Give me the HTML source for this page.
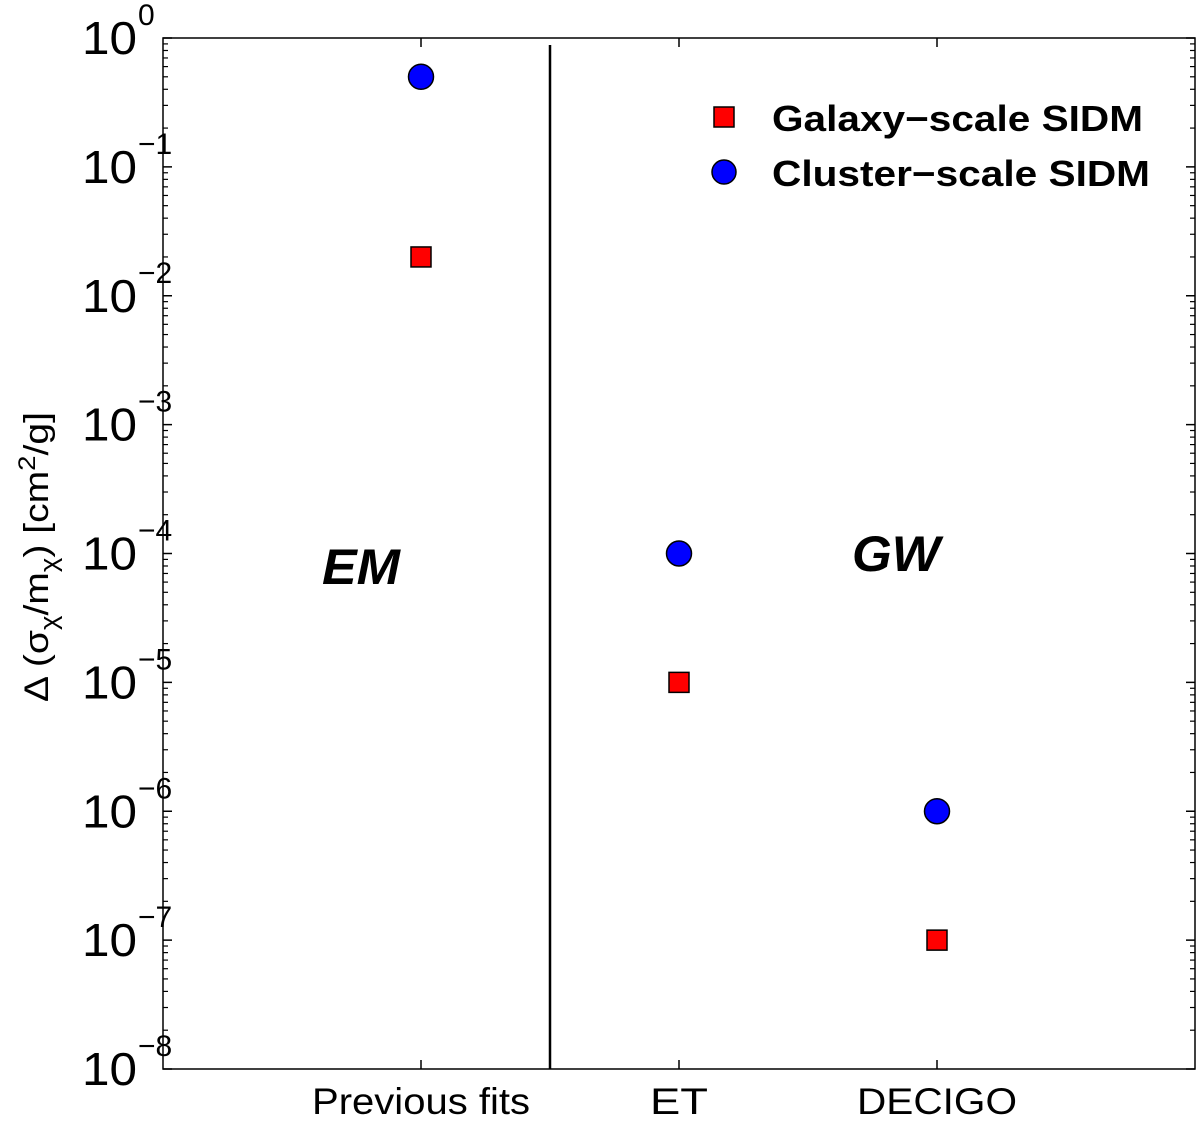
<!DOCTYPE html>
<html><head><meta charset="utf-8"><style>
body{margin:0;background:#fff}
svg{display:block;font-family:"Liberation Sans",Arial,sans-serif}
</style></head><body>
<svg id="chart" width="1200" height="1124" viewBox="0 0 1200 1124">
<g id="axes"></g>
<g id="marks"></g>
<text transform="translate(48,557) rotate(-90)" text-anchor="middle" font-size="34" textLength="290" lengthAdjust="spacingAndGlyphs">Δ (σ<tspan font-size="24" dy="9">χ</tspan><tspan dy="-9">/m</tspan><tspan font-size="24" dy="9">χ</tspan><tspan dy="-9">) [cm</tspan><tspan font-size="24" dy="-13">2</tspan><tspan dy="13">/g]</tspan></text>
<text x="322" y="584" font-size="50" font-weight="bold" font-style="italic" textLength="78" lengthAdjust="spacingAndGlyphs">EM</text>
<text x="852" y="571" font-size="50" font-weight="bold" font-style="italic" textLength="88" lengthAdjust="spacingAndGlyphs">GW</text>
<g>
<rect x="714" y="107" width="20" height="20" fill="#f00" stroke="#000" stroke-width="1.5"/>
<text x="772" y="131" font-size="36" font-weight="bold" textLength="371" lengthAdjust="spacingAndGlyphs">Galaxy−scale SIDM</text>
<circle cx="724" cy="172" r="12" fill="#00f" stroke="#000" stroke-width="1.5"/>
<text x="772" y="186" font-size="36" font-weight="bold" textLength="378" lengthAdjust="spacingAndGlyphs">Cluster−scale SIDM</text>
</g>
</svg>
<script>
const categories = ["Previous fits", "ET", "DECIGO"];
const categoryWidths = [218, 58, 160];
const galaxyValues = [0.02, 1e-5, 1e-7];
const clusterValues = [0.5, 1e-4, 1e-6];
const yExponents = [0, -1, -2, -3, -4, -5, -6, -7, -8];
const dividerPos = 1.5;

const L=163,R=1195,T=38,B=1069;
const xS=v=>L+(R-L)*v/4;
const yS=v=>T+(B-T)*(0-Math.log10(v))/8;
const NS="http://www.w3.org/2000/svg";
const axes=document.getElementById('axes'), marks=document.getElementById('marks');
function mk(tag,attrs,parent){const e=document.createElementNS(NS,tag);for(const k in attrs)e.setAttribute(k,attrs[k]);parent.appendChild(e);return e;}

const frame=mk('rect',{x:L,y:T,width:R-L,height:B-T,fill:'none',stroke:'#000','stroke-width':1.5},axes);



yExponents.forEach(ex=>{
  const y=yS(Math.pow(10,ex));
  const t1=mk('line',{x1:L,x2:L+9,y1:y,y2:y,stroke:'#000','stroke-width':1.5},axes);
  
  
  const t2=mk('line',{x1:R,x2:R-9,y1:y,y2:y,stroke:'#000','stroke-width':1.5},axes);
  
  
  if(ex>-8){for(let m=2;m<=9;m++){const yy=yS(m*Math.pow(10,ex-1));
    const a=mk('line',{x1:L,x2:L+5,y1:yy,y2:yy,stroke:'#000','stroke-width':1.2},axes);
    
    
    const b=mk('line',{x1:R,x2:R-5,y1:yy,y2:yy,stroke:'#000','stroke-width':1.2},axes);
    
    }}
  const tx=mk('text',{x:137,y:y+16,'text-anchor':'end','font-size':46,textLength:55,lengthAdjust:'spacingAndGlyphs'},axes);
  
  
  tx.textContent='10';
  const sup=mk('text',{x:138,y:y-13,'font-size':30},axes);
  
  
  sup.textContent=ex===0?'0':'−'+(-ex);
});

categories.forEach((c,i)=>{
  const x=xS(i+1);
  const a=mk('line',{x1:x,x2:x,y1:B,y2:B-9,stroke:'#000','stroke-width':1.5},axes);
  
  
  const b=mk('line',{x1:x,x2:x,y1:T,y2:T+9,stroke:'#000','stroke-width':1.5},axes);
  
  
  const t=mk('text',{x:x,y:1114,'text-anchor':'middle','font-size':37,textLength:categoryWidths[i],lengthAdjust:'spacingAndGlyphs'},axes);
  
  
  t.textContent=c;
});

const dv=mk('line',{x1:xS(dividerPos),x2:xS(dividerPos),y1:45,y2:B,stroke:'#000','stroke-width':2.5},axes);



galaxyValues.forEach((v,i)=>{
  const x=xS(i+1),y=yS(v);
  const r=mk('rect',{x:x-10,y:y-10,width:20,height:20,fill:'#f00',stroke:'#000','stroke-width':1.5},marks);
  
  
});
clusterValues.forEach((v,i)=>{
  const c=mk('circle',{cx:xS(i+1),cy:yS(v),r:12.5,fill:'#00f',stroke:'#000','stroke-width':1.5},marks);
  
  
});
</script>
</body></html>
